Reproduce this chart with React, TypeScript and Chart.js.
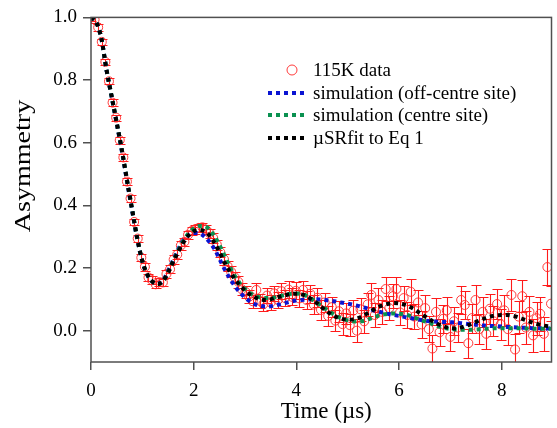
import React, { useEffect, useRef } from 'react';
import { Chart, registerables } from 'chart.js';

Chart.register(...registerables);

const FONT = "'Liberation Serif', 'Times New Roman', Times, serif";

// ---------------- data ----------------
const dataTime = [
  0, 0.07, 0.14, 0.21, 0.28, 0.35, 0.42, 0.49, 0.56, 0.63, 0.70, 0.77, 0.84, 0.91, 0.98,
  1.05, 1.12, 1.19, 1.26, 1.33, 1.40, 1.47, 1.54, 1.61, 1.68, 1.75, 1.82, 1.89, 1.96,
  2.03, 2.10, 2.17, 2.24, 2.31, 2.38, 2.45, 2.52, 2.59, 2.66, 2.73, 2.80, 2.87, 2.94,
  3.01, 3.08, 3.15, 3.22, 3.29, 3.36, 3.43, 3.50, 3.57, 3.64, 3.71, 3.78, 3.85, 3.92, 3.99,
  4.06, 4.13, 4.20, 4.27, 4.34, 4.41, 4.48, 4.55, 4.62, 4.69, 4.76, 4.83, 4.90, 4.97,
  5.04, 5.11, 5.18, 5.25, 5.32, 5.39, 5.46, 5.53, 5.60, 5.67, 5.74, 5.81, 5.88, 5.95,
  6.02, 6.09, 6.16, 6.23, 6.30, 6.37, 6.44, 6.51, 6.58, 6.65, 6.72, 6.79, 6.86, 6.93,
  7.00, 7.07, 7.14, 7.21, 7.28, 7.35, 7.42, 7.49, 7.56, 7.63, 7.70, 7.77, 7.84, 7.91, 7.98,
  8.05, 8.12, 8.19, 8.26, 8.33, 8.40, 8.47, 8.54, 8.61, 8.68, 8.75, 8.82, 8.89, 8.96,
];

const dataAsym = [
  1.000, 0.993, 0.968, 0.922, 0.858, 0.796, 0.728, 0.680, 0.608, 0.553, 0.476, 0.422, 0.347, 0.294, 0.233,
  0.204, 0.170, 0.161, 0.148, 0.155, 0.154, 0.181, 0.196, 0.227, 0.243, 0.272, 0.284, 0.306, 0.318,
  0.324, 0.328, 0.330, 0.322, 0.311, 0.296, 0.275, 0.250, 0.228, 0.206, 0.188, 0.170, 0.156, 0.132,
  0.124, 0.108, 0.094, 0.130, 0.095, 0.085, 0.112, 0.090, 0.119, 0.098, 0.126, 0.104, 0.131, 0.108, 0.127,
  0.103, 0.130, 0.098, 0.118, 0.083, 0.105, 0.066, 0.090, 0.047, 0.075, 0.032, 0.062, 0.021, 0.055,
  0.018, 0.064, 0.000, 0.068, 0.030, 0.084, 0.114, 0.050, 0.098, 0.060, 0.133, 0.072, 0.110, 0.133,
  0.058, 0.104, 0.050, 0.124, 0.045, 0.090, 0.020, 0.072, 0.005, -0.057, 0.060, -0.005, 0.038, 0.065,
  -0.020, 0.030, 0.010, 0.098, 0.082, -0.040, 0.040, 0.098, 0.005, 0.060, -0.010, 0.070, 0.030, 0.085, 0.020,
  0.065, 0.005, 0.114, -0.060, 0.045, 0.110, 0.010, 0.060, -0.015, 0.040, 0.054, -0.010, 0.203, 0.086,
];

const dataErr = [
  0.010, 0.010, 0.010, 0.010, 0.010, 0.010, 0.010, 0.010, 0.011, 0.011, 0.011, 0.011, 0.011, 0.011, 0.011,
  0.012, 0.012, 0.012, 0.012, 0.012, 0.012, 0.012, 0.013, 0.013, 0.013, 0.013, 0.013, 0.013, 0.014,
  0.014, 0.014, 0.015, 0.015, 0.015, 0.016, 0.016, 0.016, 0.017, 0.017, 0.018, 0.018, 0.019, 0.019,
  0.020, 0.021, 0.021, 0.022, 0.022, 0.023, 0.023, 0.024, 0.024, 0.025, 0.025, 0.026, 0.026, 0.027, 0.027,
  0.028, 0.028, 0.029, 0.029, 0.030, 0.030, 0.031, 0.031, 0.032, 0.032, 0.033, 0.033, 0.034, 0.034,
  0.035, 0.035, 0.036, 0.036, 0.036, 0.037, 0.037, 0.037, 0.038, 0.038, 0.038, 0.039, 0.039, 0.039,
  0.040, 0.040, 0.040, 0.041, 0.041, 0.041, 0.042, 0.042, 0.042, 0.043, 0.043, 0.043, 0.044, 0.044,
  0.044, 0.045, 0.045, 0.045, 0.046, 0.046, 0.046, 0.047, 0.047, 0.047, 0.048, 0.048, 0.048, 0.049, 0.049,
  0.049, 0.050, 0.050, 0.050, 0.051, 0.051, 0.052, 0.052, 0.053, 0.053, 0.054, 0.055, 0.057, 0.056,
];

const curveTime = [
  0.0, 0.1, 0.2, 0.3, 0.4, 0.5, 0.6, 0.7, 0.8, 0.9,
  1.0, 1.1, 1.2, 1.3, 1.4, 1.5, 1.6, 1.7, 1.8, 1.9,
  2.0, 2.1, 2.2, 2.3, 2.4, 2.5, 2.6, 2.7, 2.8, 2.9,
  3.0, 3.1, 3.2, 3.3, 3.4, 3.5, 3.6, 3.7, 3.8, 3.9,
  4.0, 4.1, 4.2, 4.3, 4.4, 4.5, 4.6, 4.7, 4.8, 4.9,
  5.0, 5.1, 5.2, 5.3, 5.4, 5.5, 5.6, 5.7, 5.8, 5.9,
  6.0, 6.1, 6.2, 6.3, 6.4, 6.5, 6.6, 6.7, 6.8, 6.9,
  7.0, 7.1, 7.2, 7.3, 7.4, 7.5, 7.6, 7.7, 7.8, 7.9,
  8.0, 8.1, 8.2, 8.3, 8.4, 8.5, 8.6, 8.7, 8.8, 8.9,
  9.0,
];

const fitEq1 = [
  1.000, 0.985, 0.935, 0.835, 0.750, 0.665, 0.578, 0.482, 0.388, 0.296,
  0.222, 0.178, 0.156, 0.149, 0.158, 0.185, 0.220, 0.252, 0.282, 0.304,
  0.317, 0.322, 0.318, 0.305, 0.282, 0.252, 0.218, 0.190, 0.165, 0.145,
  0.128, 0.115, 0.106, 0.100, 0.098, 0.100, 0.105, 0.110, 0.114, 0.117,
  0.118, 0.116, 0.110, 0.100, 0.088, 0.074, 0.061, 0.050, 0.042, 0.037,
  0.035, 0.036, 0.040, 0.047, 0.057, 0.067, 0.076, 0.082, 0.086, 0.088,
  0.087, 0.083, 0.077, 0.068, 0.057, 0.046, 0.036, 0.026, 0.018, 0.012,
  0.008, 0.007, 0.010, 0.015, 0.021, 0.028, 0.035, 0.041, 0.046, 0.049,
  0.050, 0.050, 0.048, 0.044, 0.038, 0.032, 0.026, 0.021, 0.017, 0.014,
  0.012,
];

const simOffCentre = [
  1.000, 0.985, 0.934, 0.834, 0.748, 0.662, 0.574, 0.478, 0.384, 0.293,
  0.220, 0.177, 0.156, 0.150, 0.160, 0.190, 0.225, 0.260, 0.289, 0.305,
  0.312, 0.311, 0.302, 0.285, 0.262, 0.230, 0.197, 0.168, 0.143, 0.122,
  0.106, 0.093, 0.084, 0.079, 0.077, 0.078, 0.081, 0.085, 0.089, 0.093,
  0.096, 0.098, 0.099, 0.100, 0.100, 0.099, 0.097, 0.095, 0.092, 0.089,
  0.086, 0.083, 0.079, 0.075, 0.070, 0.065, 0.061, 0.057, 0.053, 0.050,
  0.047, 0.044, 0.041, 0.038, 0.035, 0.032, 0.030, 0.029, 0.028, 0.028,
  0.027, 0.026, 0.024, 0.022, 0.020, 0.019, 0.017, 0.016, 0.015, 0.014,
  0.013, 0.012, 0.011, 0.010, 0.009, 0.009, 0.008, 0.008, 0.007, 0.007,
  0.006,
];

const simCentre = [
  1.000, 0.985, 0.935, 0.835, 0.750, 0.665, 0.578, 0.482, 0.388, 0.296,
  0.222, 0.178, 0.156, 0.149, 0.158, 0.186, 0.222, 0.256, 0.287, 0.311,
  0.326, 0.334, 0.334, 0.324, 0.303, 0.274, 0.240, 0.205, 0.175, 0.151,
  0.133, 0.120, 0.111, 0.106, 0.104, 0.104, 0.107, 0.111, 0.115, 0.118,
  0.119, 0.117, 0.111, 0.101, 0.090, 0.078, 0.066, 0.055, 0.045, 0.038,
  0.033, 0.030, 0.029, 0.031, 0.036, 0.042, 0.048, 0.052, 0.054, 0.055,
  0.054, 0.052, 0.048, 0.042, 0.036, 0.030, 0.024, 0.018, 0.012, 0.008,
  0.005, 0.004, 0.003, 0.003, 0.003, 0.004, 0.005, 0.006, 0.007, 0.008,
  0.008, 0.008, 0.008, 0.008, 0.007, 0.007, 0.006, 0.006, 0.006, 0.006,
  0.006,
];

const xTicks = [0, 2, 4, 6, 8];
const yTicks = [0.0, 0.2, 0.4, 0.6, 0.8, 1.0];
const seriesLabels = ['115K data', 'simulation (off-centre site)', 'simulation (centre site)', 'µSRfit to Eq 1'];
const xTitle = 'Time (µs)';
const yTitle = 'Asymmetry';

// ---------------- styles ----------------
const RED_BAR = '#ff1a1a';
const RED_CIRCLE = 'rgba(255,40,40,0.9)';
const BLUE = '#0a14d2';
const GREEN = '#0a9150';
const BLACK = '#000000';
const AXIS = '#505050';

const pts = (xs: number[], ys: number[]) => xs.map((x, i) => ({ x, y: ys[i] }));

const errorBarPlugin = {
  id: 'errorBars',
  beforeDatasetsDraw(chart: any) {
    const { ctx, chartArea, scales } = chart;
    const xs = scales.x;
    const ys = scales.y;
    ctx.save();
    ctx.beginPath();
    ctx.rect(chartArea.left, chartArea.top, chartArea.right - chartArea.left, chartArea.bottom - chartArea.top);
    ctx.clip();
    ctx.strokeStyle = RED_BAR;
    ctx.globalAlpha = 1;
    ctx.setLineDash([]);
    ctx.lineWidth = 1.1;
    ctx.beginPath();
    for (let i = 0; i < dataTime.length; i++) {
      const x = Math.round(xs.getPixelForValue(dataTime[i])) + 0.5;
      const y1 = Math.round(ys.getPixelForValue(dataAsym[i] - dataErr[i])) + 0.5;
      const y2 = Math.round(ys.getPixelForValue(dataAsym[i] + dataErr[i])) + 0.5;
      ctx.moveTo(x, y1);
      ctx.lineTo(x, y2);
      ctx.moveTo(x - 5, y1);
      ctx.lineTo(x + 5, y1);
      ctx.moveTo(x - 5, y2);
      ctx.lineTo(x + 5, y2);
    }
    ctx.stroke();
    ctx.restore();
  },
};

const framePlugin = {
  id: 'frame',
  afterDatasetsDraw(chart: any) {
    const { ctx, chartArea } = chart;
    ctx.save();
    ctx.strokeStyle = AXIS;
    ctx.lineWidth = 1.5;
    ctx.setLineDash([]);
    ctx.strokeRect(chartArea.left, chartArea.top, chartArea.right - chartArea.left, chartArea.bottom - chartArea.top);
    ctx.restore();
  },
};

const legendPlugin = {
  id: 'customLegend',
  afterDraw(chart: any) {
    const { ctx } = chart;
    const rowY = [70, 93, 115, 138];
    const colors = [RED_CIRCLE, BLUE, GREEN, BLACK];
    ctx.save();
    ctx.font = `19px ${FONT}`;
    ctx.textBaseline = 'middle';
    ctx.textAlign = 'left';
    for (let i = 0; i < seriesLabels.length; i++) {
      const y = rowY[i];
      if (i === 0) {
        ctx.strokeStyle = RED_CIRCLE;
        ctx.lineWidth = 1;
        ctx.beginPath();
        ctx.arc(292, y, 5, 0, Math.PI * 2);
        ctx.stroke();
      } else {
        ctx.strokeStyle = colors[i];
        ctx.lineWidth = 4;
        ctx.lineCap = 'butt';
        ctx.setLineDash([4, 4]);
        ctx.beginPath();
        ctx.moveTo(268, y);
        ctx.lineTo(308, y);
        ctx.stroke();
        ctx.setLineDash([]);
      }
      ctx.fillStyle = '#000';
      ctx.fillText(seriesLabels[i], 313, y + 1);
    }
    ctx.restore();
  },
};

const axisTitlePlugin = {
  id: 'axisTitles',
  afterDraw(chart: any) {
    const { ctx, chartArea } = chart;
    ctx.save();
    ctx.font = `23px ${FONT}`;
    ctx.fillStyle = '#000';
    ctx.textAlign = 'center';
    ctx.textBaseline = 'middle';
    // x title
    ctx.fillText(xTitle, (chartArea.left + chartArea.right) / 2 + 5, 412);
    // y title
    ctx.translate(24, 166);
    ctx.rotate(-Math.PI / 2);
    ctx.scale(1.22, 1);
    ctx.fillText(yTitle, 0, 0);
    ctx.restore();
  },
};

export default function App() {
  const ref = useRef<HTMLCanvasElement | null>(null);

  useEffect(() => {
    if (!ref.current) return;
    const curve = (label: string, ys: number[], color: string) => ({
      label,
      data: pts(curveTime, ys),
      showLine: true,
      borderColor: color,
      backgroundColor: color,
      borderWidth: 4,
      borderDash: [4, 4],
      borderCapStyle: 'butt' as const,
      pointRadius: 0,
      cubicInterpolationMode: 'monotone' as const,
      fill: false,
    });

    const chart = new Chart(ref.current, {
      type: 'scatter',
      data: {
        datasets: [
          curve(seriesLabels[3], fitEq1, BLACK),
          curve(seriesLabels[2], simCentre, GREEN),
          curve(seriesLabels[1], simOffCentre, BLUE),
          {
            label: seriesLabels[0],
            data: pts(dataTime, dataAsym),
            showLine: false,
            pointStyle: 'circle',
            pointRadius: 4.5,
            pointBorderWidth: 1,
            pointBorderColor: RED_CIRCLE,
            pointBackgroundColor: 'rgba(0,0,0,0)',
          } as any,
        ],
      },
      options: {
        animation: false,
        responsive: false,
        devicePixelRatio: 1,
        layout: { padding: { top: 15, right: 3, left: 0, bottom: 0 } },
        plugins: {
          legend: { display: false },
          tooltip: { enabled: false },
        },
        scales: {
          x: {
            type: 'linear',
            min: 0,
            max: 8.97,
            afterFit: (s: any) => { s.height = 66; },
            afterBuildTicks: (s: any) => { s.ticks = xTicks.map((v) => ({ value: v })); },
            border: { display: false },
            grid: {
              drawOnChartArea: false,
              drawTicks: true,
              tickLength: 8,
              color: AXIS,
              lineWidth: 1.5,
            },
            ticks: {
              color: '#000',
              font: { family: FONT, size: 19 },
              padding: 10,
              maxRotation: 0,
              callback: (v: any) => String(v),
            },
            title: { display: false, text: xTitle },
          },
          y: {
            type: 'linear',
            min: -0.1,
            max: 1.0,
            afterFit: (s: any) => { s.width = 91; },
            afterBuildTicks: (s: any) => { s.ticks = yTicks.map((v) => ({ value: v })); },
            border: { display: false },
            grid: {
              drawOnChartArea: false,
              drawTicks: true,
              tickLength: 8,
              color: AXIS,
              lineWidth: 1.5,
            },
            ticks: {
              color: '#000',
              font: { family: FONT, size: 19 },
              padding: 6,
              callback: (v: any) => Number(v).toFixed(1),
            },
            title: { display: false, text: yTitle },
          },
        },
      },
      plugins: [errorBarPlugin, framePlugin, legendPlugin, axisTitlePlugin],
    });
    return () => chart.destroy();
  }, []);

  return (
    <div style={{ position: 'fixed', left: 0, top: 0, width: 557, height: 428, background: '#fff' }}>
      <canvas ref={ref} width={557} height={428} style={{ width: 557, height: 428 }} />
    </div>
  );
}
